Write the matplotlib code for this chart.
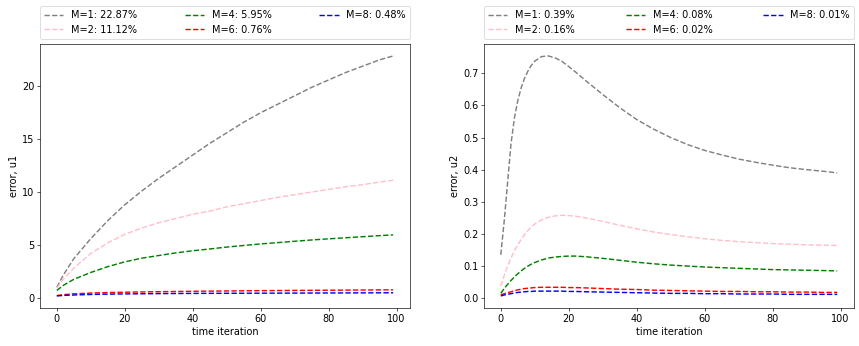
import matplotlib
matplotlib.use("Agg")
import matplotlib.pyplot as plt

plt.rcParams["font.size"] = 12.2
plt.rcParams["lines.linewidth"] = 1.8

# values
x_left = [0, 2, 5, 10, 15, 20, 25, 30, 35, 40, 45, 50, 55, 60, 65, 70, 75, 80, 85, 90, 95, 99]
u1_m1 = [1.0, 2.2, 3.7, 5.6, 7.3, 8.8, 10.1, 11.3, 12.4, 13.5, 14.6, 15.6, 16.6, 17.5, 18.3, 19.1, 19.9, 20.6, 21.3, 21.9, 22.5, 22.87]
u1_m2 = [0.9, 1.8, 2.8, 4.2, 5.2, 6.0, 6.6, 7.1, 7.5, 7.9, 8.2, 8.6, 8.9, 9.2, 9.5, 9.75, 10.0, 10.25, 10.5, 10.7, 10.95, 11.12]
u1_m4 = [0.7, 1.2, 1.75, 2.4, 2.95, 3.4, 3.75, 4.0, 4.25, 4.45, 4.62, 4.8, 4.95, 5.1, 5.22, 5.35, 5.47, 5.58, 5.68, 5.78, 5.88, 5.95]
u1_m6 = [0.22, 0.3, 0.38, 0.45, 0.5, 0.53, 0.56, 0.58, 0.6, 0.62, 0.635, 0.65, 0.665, 0.68, 0.69, 0.7, 0.71, 0.72, 0.73, 0.74, 0.75, 0.76]
u1_m8 = [0.18, 0.23, 0.27, 0.32, 0.35, 0.37, 0.385, 0.4, 0.41, 0.42, 0.425, 0.43, 0.435, 0.44, 0.445, 0.45, 0.455, 0.46, 0.465, 0.47, 0.475, 0.48]

x_right = [0, 1, 2, 3, 4, 5, 6, 7, 8, 9, 10, 12, 14, 16, 18, 20, 22, 25, 30, 35, 40, 45, 50, 55, 60, 65, 70, 75, 80, 85, 90, 95, 99]
u2_m1 = [0.135, 0.24, 0.36, 0.48, 0.56, 0.615, 0.655, 0.685, 0.707, 0.725, 0.738, 0.752, 0.754, 0.748, 0.737, 0.721, 0.704, 0.677, 0.634, 0.593, 0.556, 0.526, 0.5, 0.478, 0.46, 0.446, 0.433, 0.423, 0.414, 0.406, 0.4, 0.395, 0.39]
u2_m2 = [0.038, 0.07, 0.1, 0.125, 0.148, 0.166, 0.183, 0.198, 0.211, 0.222, 0.231, 0.244, 0.252, 0.256, 0.258, 0.257, 0.255, 0.25, 0.239, 0.227, 0.216, 0.206, 0.198, 0.191, 0.185, 0.18, 0.176, 0.173, 0.17, 0.168, 0.166, 0.165, 0.164]
u2_m4 = [0.015, 0.03, 0.043, 0.055, 0.066, 0.076, 0.085, 0.093, 0.1, 0.106, 0.111, 0.119, 0.125, 0.128, 0.13, 0.131, 0.131, 0.129, 0.124, 0.118, 0.112, 0.107, 0.103, 0.1, 0.097, 0.095, 0.093, 0.091, 0.089, 0.088, 0.087, 0.086, 0.085]
u2_m6 = [0.01, 0.014, 0.017, 0.02, 0.023, 0.026, 0.028, 0.03, 0.031, 0.032, 0.033, 0.034, 0.034, 0.034, 0.034, 0.033, 0.033, 0.032, 0.03, 0.028, 0.027, 0.025, 0.024, 0.023, 0.022, 0.021, 0.021, 0.02, 0.02, 0.019, 0.019, 0.018, 0.018]
u2_m8 = [0.007, 0.01, 0.012, 0.014, 0.016, 0.018, 0.019, 0.02, 0.021, 0.021, 0.022, 0.022, 0.022, 0.022, 0.022, 0.021, 0.021, 0.02, 0.019, 0.018, 0.017, 0.016, 0.015, 0.015, 0.014, 0.014, 0.013, 0.013, 0.013, 0.012, 0.012, 0.012, 0.012]

labels_u1 = ["M=1: 22.87%", "M=2: 11.12%", "M=4: 5.95%", "M=6: 0.76%", "M=8: 0.48%"]
labels_u2 = ["M=1: 0.39%", "M=2: 0.16%", "M=4: 0.08%", "M=6: 0.02%", "M=8: 0.01%"]
colors = ["grey", "pink", "green", "red", "blue"]

fig, (ax1, ax2) = plt.subplots(1, 2, figsize=(15, 6.035), dpi=57.333)
fig.subplots_adjust(left=0.0465, right=0.993, bottom=0.110, top=0.873, wspace=0.2)

for ys, lab, c in zip([u1_m1, u1_m2, u1_m4, u1_m6, u1_m8], labels_u1, colors):
    ax1.plot(x_left, ys, "--", color=c, label=lab)
for ys, lab, c in zip([u2_m1, u2_m2, u2_m4, u2_m6, u2_m8], labels_u2, colors):
    ax2.plot(x_right, ys, "--", color=c, label=lab)

ax1.set_ylabel("error, u1")
ax2.set_ylabel("error, u2")
for ax in (ax1, ax2):
    ax.set_xlabel("time iteration")
    ax.legend(bbox_to_anchor=(0, 1.02, 1, 0.2), loc="lower left",
              mode="expand", ncol=3, borderaxespad=0)

plt.savefig("out.png", dpi=57.333)
